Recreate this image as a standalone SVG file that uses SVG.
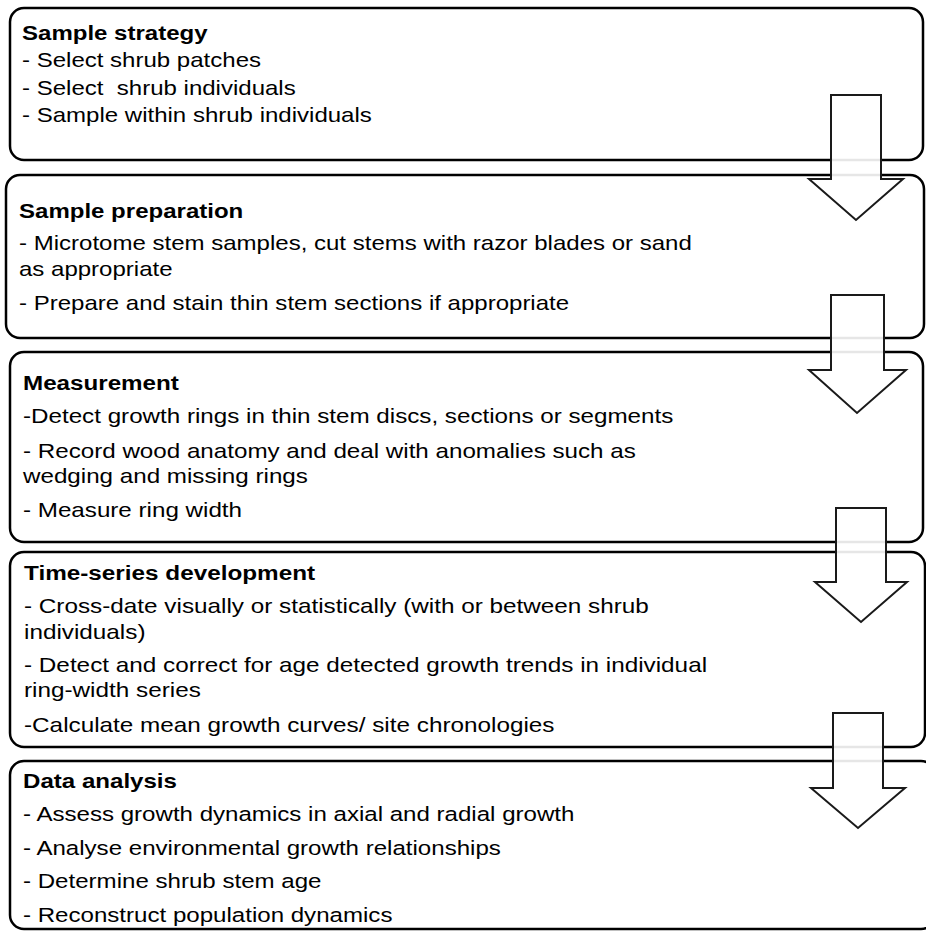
<svg xmlns="http://www.w3.org/2000/svg" width="926" height="931" viewBox="0 0 926 931">
<style>
.box{fill:#fff;stroke:#000;stroke-width:2.5}
.arr{fill:#fff;fill-opacity:0.9;stroke:#1a1a1a;stroke-width:2;stroke-linejoin:miter}
text{font-family:"Liberation Sans",Arial,sans-serif;font-size:20.5px;fill:#000}
.t{font-weight:bold}
</style>
<rect width="926" height="931" fill="#fff"/>
<g id="box1"><rect class="box" x="10" y="8" width="913" height="152" rx="14"/>
<g transform="translate(22,0) scale(1.172,1)">
<text class="t" x="0" y="40">Sample strategy</text>
<text x="0" y="67">- Select shrub patches</text>
<text x="0" y="95" xml:space="preserve">- Select  shrub individuals</text>
<text x="0" y="122">- Sample within shrub individuals</text></g></g>
<g id="box2"><rect class="box" x="6" y="175" width="918" height="163" rx="14"/>
<g transform="translate(19,0) scale(1.172,1)">
<text class="t" x="0" y="218">Sample preparation</text>
<text x="0" y="250">- Microtome stem samples, cut stems with razor blades or sand</text>
<text x="0" y="276">as appropriate</text>
<text x="0" y="310">- Prepare and stain thin stem sections if appropriate</text></g></g>
<g id="box3"><rect class="box" x="10" y="352" width="913" height="190" rx="14"/>
<g transform="translate(23,0) scale(1.18,1)">
<text class="t" x="0" y="390">Measurement</text>
<text x="0" y="423">-Detect growth rings in thin stem discs, sections or segments</text>
<text x="0" y="458">- Record wood anatomy and deal with anomalies such as</text>
<text x="0" y="483">wedging and missing rings</text>
<text x="0" y="517">- Measure ring width</text></g></g>
<g id="box4"><rect class="box" x="10" y="552" width="915" height="195" rx="14"/>
<g transform="translate(24,0) scale(1.185,1)">
<text class="t" x="0" y="580">Time-series development</text>
<text x="0" y="613">- Cross-date visually or statistically (with or between shrub</text>
<text x="0" y="639">individuals)</text>
<text x="0" y="672">- Detect and correct for age detected growth trends in individual</text>
<text x="0" y="697">ring-width series</text>
<text x="0" y="732">-Calculate mean growth curves/ site chronologies</text></g></g>
<g id="box5"><rect class="box" x="10" y="761" width="925" height="168" rx="14"/>
<g transform="translate(23,0) scale(1.175,1)">
<text class="t" x="0" y="788">Data analysis</text>
<text x="0" y="821">- Assess growth dynamics in axial and radial growth</text>
<text x="0" y="855">- Analyse environmental growth relationships</text>
<text x="0" y="888">- Determine shrub stem age</text>
<text x="0" y="922">- Reconstruct population dynamics</text></g></g>
<g id="connectors">
<polygon class="arr" points="831,95 881,95 881,179 903,179 856,220 809,179 831,179"/>
<polygon class="arr" points="831,295 884,295 884,370 906,370 857,413 809,370 831,370"/>
<polygon class="arr" points="836,508 886,508 886,582 907,582 861,622 815,582 836,582"/>
<polygon class="arr" points="833,713 883,713 883,788 905,788 858,828 811,788 833,788"/>
</g>
</svg>
